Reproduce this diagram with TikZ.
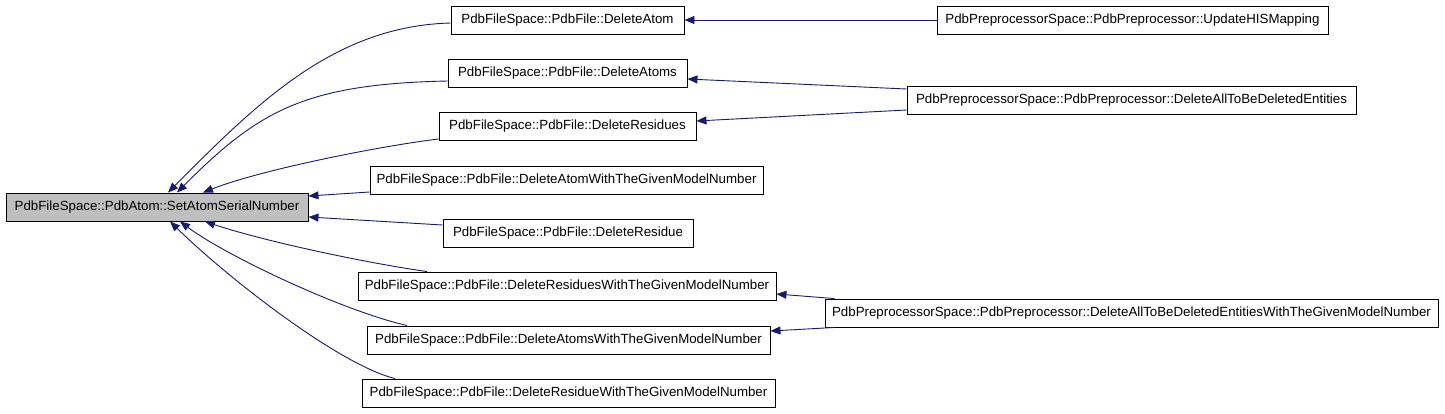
\documentclass[tikz,border=0pt]{standalone}
\usepackage{fontspec}
\setmainfont{Liberation Sans}
\usetikzlibrary{arrows.meta}
\definecolor{edgeblue}{HTML}{191970}
\definecolor{mainfill}{HTML}{BFBFBF}
\begin{document}
\begin{tikzpicture}[x=1pt,y=-1pt,
  box/.style={draw=black, line width=0.9pt, fill=white, inner sep=0pt, minimum height=28pt,
    font=\fontsize{13.3}{16}\selectfont, anchor=center},
  mainbox/.style={box, fill=mainfill},
  edge/.style={draw=edgeblue, line width=0.9pt, -{Triangle[length=10pt,width=8pt]}}]
\useasboundingbox (0,0) rectangle (1445,413);
\node[mainbox, minimum width=302pt] (main) at (157,207) {PdbFileSpace::PdbAtom::SetAtomSerialNumber};
\node[box, minimum width=233pt] (a1) at (567.5,20) {PdbFileSpace::PdbFile::DeleteAtom};
\node[box, minimum width=239pt] (a2) at (567.5,73) {PdbFileSpace::PdbFile::DeleteAtoms};
\node[box, minimum width=257pt] (a3) at (567.5,126) {PdbFileSpace::PdbFile::DeleteResidues};
\node[box, minimum width=393pt] (a4) at (566.5,180) {PdbFileSpace::PdbFile::DeleteAtomWithTheGivenModelNumber};
\node[box, minimum width=250pt] (a5) at (568,233) {PdbFileSpace::PdbFile::DeleteResidue};
\node[box, minimum width=418pt] (a6) at (567,286) {PdbFileSpace::PdbFile::DeleteResiduesWithTheGivenModelNumber};
\node[box, minimum width=403pt] (a7) at (568.5,340) {PdbFileSpace::PdbFile::DeleteAtomsWithTheGivenModelNumber};
\node[box, minimum width=413pt] (a8) at (568.5,393) {PdbFileSpace::PdbFile::DeleteResidueWithTheGivenModelNumber};
\node[box, minimum width=391pt] (r1) at (1132.5,20) {PdbPreprocessorSpace::PdbPreprocessor::UpdateHISMapping};
\node[box, minimum width=449pt] (r2) at (1131.5,100) {PdbPreprocessorSpace::PdbPreprocessor::DeleteAllToBeDeletedEntities};
\node[box, minimum width=613pt] (r3) at (1131.5,313) {PdbPreprocessorSpace::PdbPreprocessor::DeleteAllToBeDeletedEntitiesWithTheGivenModelNumber};
% edges into main
\draw[edge] ([yshift=-3pt]a1.west) .. controls (335,26) and (258,102) .. ([xshift=11pt]main.north);
\draw[edge] ([yshift=-8pt]a2.west) .. controls (306,84) and (259,110) .. ([xshift=20pt]main.north);
\draw[edge] ([yshift=-13pt]a3.west) .. controls (380,146) and (260,170) .. ([xshift=46pt]main.north);
\draw[edge] ([yshift=-12pt]a4.west) -- ([yshift=11pt]main.east);
\draw[edge] ([yshift=8pt]a5.west) -- ([yshift=-10pt]main.east);
\draw[edge] ([xshift=-140pt]a6.north) .. controls (360,262) and (260,240) .. ([xshift=48pt]main.south);
\draw[edge] ([xshift=-161.5pt]a7.north) .. controls (340,310) and (225,255) .. ([xshift=23pt]main.south);
\draw[edge] ([xshift=-173.5pt]a8.north) .. controls (340,365) and (230,280) .. ([xshift=13pt]main.south);
% edges from preprocessor
\draw[edge] (r1.west) -- (a1.east);
\draw[edge] ([yshift=11pt]r2.west) -- ([yshift=-6pt]a2.east);
\draw[edge] ([yshift=-10pt]r2.west) -- ([yshift=5pt]a3.east);
\draw[edge] ([xshift=10pt]r3.north west) -- ([yshift=-8pt]a6.east);
\draw[edge] ([xshift=10pt]r3.south west) -- ([yshift=9pt]a7.east);
\end{tikzpicture}
\end{document}
